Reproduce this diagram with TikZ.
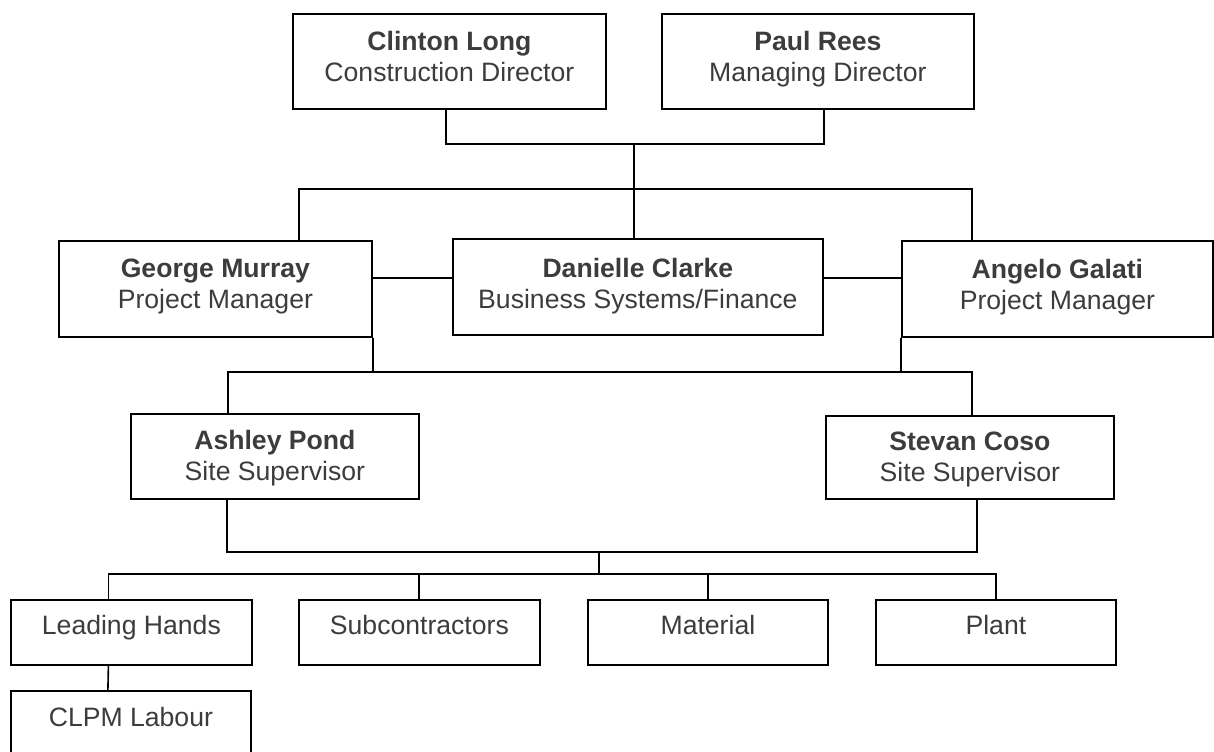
\documentclass[tikz,border=0pt]{standalone}
\usepackage{fontspec}
\setmainfont{Liberation Sans}
\usepackage{tikz}
\definecolor{ink}{HTML}{3C3C3C}
\tikzset{
  unit/.style={draw=black, line width=0.9pt, anchor=north west, inner sep=0pt},
  txt/.style={anchor=north, inner sep=0pt, align=center, text=ink,
              font=\fontsize{13.3}{15.4}\selectfont},
  link/.style={draw=black, line width=0.8pt}
}

\begin{document}
\begin{tikzpicture}[x=0.5pt,y=-0.5pt]
  \useasboundingbox (0,0) rectangle (1214,751);

  % Directors.
  \node[unit, minimum width=156.5pt, minimum height=47.5pt] (clinton) at (292,13) {};
  \node[unit, minimum width=156pt, minimum height=47.5pt] (paul) at (661,13) {};
  \node[txt] (clintontxt) at ([yshift=-9pt]clinton.north) {\textbf{Clinton Long}\\Construction Director};
  \node[txt] (paultxt) at ([yshift=-9pt]paul.north) {\textbf{Paul Rees}\\Managing Director};

  % Managers.
  \node[unit, minimum width=156.5pt, minimum height=48pt] (george) at (58,240) {};
  \node[unit, minimum width=185pt, minimum height=48pt] (danielle) at (452,238) {};
  \node[unit, minimum width=155.5pt, minimum height=48pt] (angelo) at (901,240) {};
  \node[txt] (georgetxt) at ([yshift=-9.5pt]george.north) {\textbf{George Murray}\\Project Manager};
  \node[txt] (danielletxt) at ([yshift=-10pt]danielle.north) {\textbf{Danielle Clarke}\\Business Systems/Finance};
  \node[txt] (angelotxt) at ([yshift=-9.5pt]angelo.north) {\textbf{Angelo Galati}\\Project Manager};

  % Site supervisors.
  \node[unit, minimum width=144pt, minimum height=42.5pt] (ashley) at (130,413) {};
  \node[unit, minimum width=144pt, minimum height=41.5pt] (stevan) at (825,415) {};
  \node[txt] (ashleytxt) at ([yshift=-8.5pt]ashley.north) {\textbf{Ashley Pond}\\Site Supervisor};
  \node[txt] (stevantxt) at ([yshift=-8.5pt]stevan.north) {\textbf{Stevan Coso}\\Site Supervisor};

  % Resources.
  \node[unit, minimum width=120.5pt, minimum height=32.5pt] (hands) at (10,599) {};
  \node[unit, minimum width=120.5pt, minimum height=32.5pt] (subs) at (298,599) {};
  \node[unit, minimum width=120pt, minimum height=32.5pt] (material) at (587,599) {};
  \node[unit, minimum width=120pt, minimum height=32.5pt] (plant) at (875,599) {};
  \node[unit, minimum width=120pt, minimum height=31.5pt] (labour) at (10,690) {};
  \node[txt] (handstxt) at ([yshift=-8pt]hands.north) {Leading Hands};
  \node[txt] (substxt) at ([yshift=-8pt]subs.north) {Subcontractors};
  \node[txt] (materialtxt) at ([yshift=-8pt]material.north) {Material};
  \node[txt] (planttxt) at ([yshift=-8pt]plant.north) {Plant};
  \node[txt] (labourtxt) at ([yshift=-8.5pt]labour.north) {CLPM Labour};

  % Junctions.
  \coordinate (j1) at (634,144);
  \coordinate (j2) at (634,189);
  \coordinate (j3) at (634,372);
  \coordinate (j4) at (599,552);
  \coordinate (j5) at (599,574);

  % Reporting lines.
  \draw[link] ([xshift=-1.75pt]clinton.south) |- (j1) -| ([xshift=3pt]paul.south);
  \draw[link] (j1) -- (j1 |- danielle.north);
  \draw[link] ([xshift=-37pt]george.north east) |- (j2) -| ([xshift=35.5pt]angelo.north west);
  \draw[link] ([yshift=5.5pt]george.east) -- ([yshift=5.5pt]george.east -| danielle.west);
  \draw[link] ([yshift=4.5pt]danielle.east) -- ([yshift=4.5pt]danielle.east -| angelo.west);
  \draw[link] (george.south east) -- (george.south east |- j3);
  \draw[link] (angelo.south west) -- (angelo.south west |- j3);
  \draw[link] ([xshift=-23.5pt]ashley.north) |- (j3) -| ([xshift=1pt]stevan.north);
  \draw[link] ([xshift=-24pt]ashley.south) |- (j4) -| ([xshift=3.5pt]stevan.south);
  \draw[link] (j4) -- (j5);
  \draw[link] ([xshift=-11.5pt]hands.north) |- (j5) -| (plant.north);
  \draw[link] ([xshift=-0.25pt]subs.north) -- ([xshift=-0.25pt]subs.north |- j5);
  \draw[link] (material.north) -- (material.north |- j5);
  \draw[link] ([xshift=-11.5pt]hands.south) -- ([xshift=-11.5pt]labour.north);
\end{tikzpicture}
\end{document}
